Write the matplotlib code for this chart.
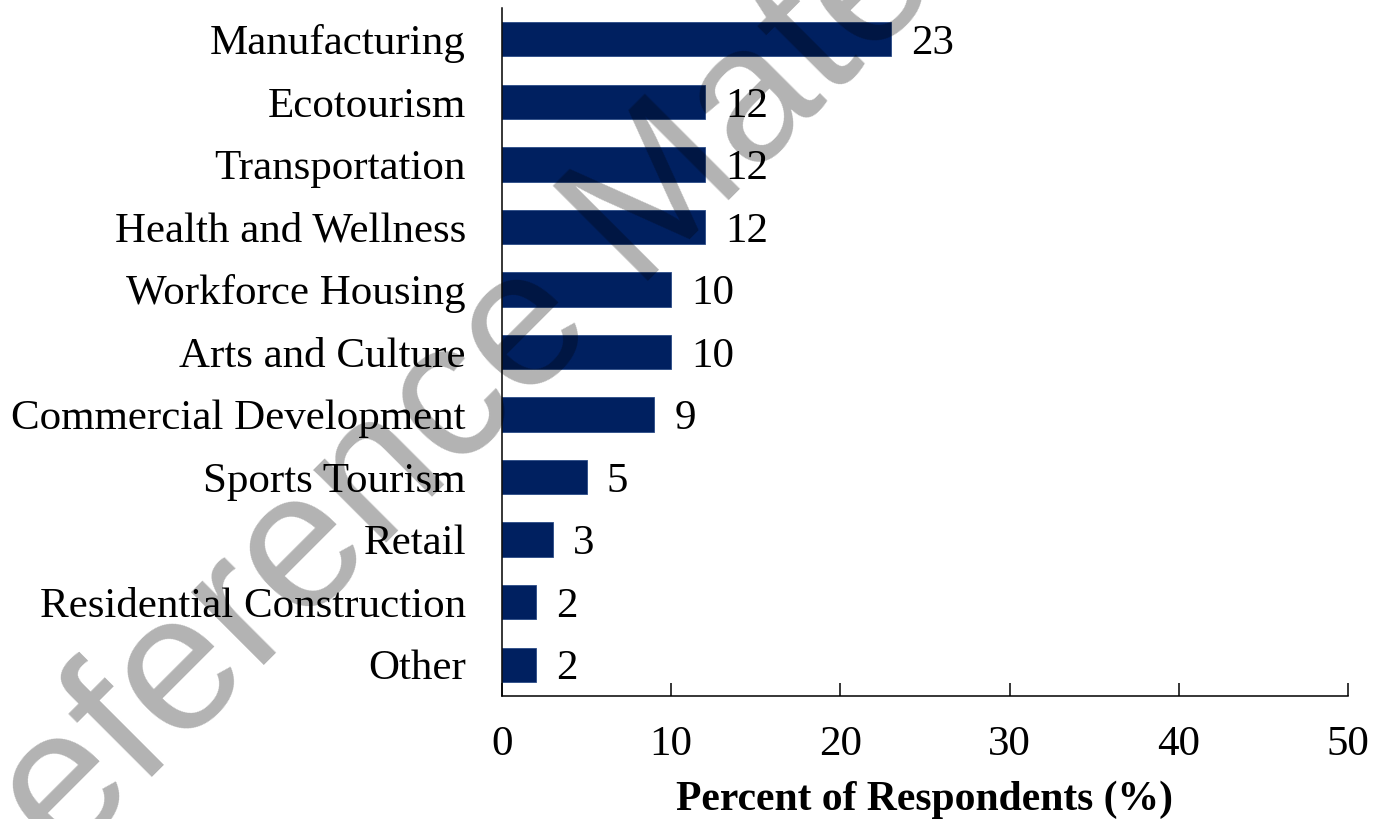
import matplotlib
matplotlib.use("Agg")
import matplotlib.pyplot as plt

categories = ["Manufacturing", "Ecotourism", "Transportation", "Health and Wellness",
              "Workforce Housing", "Arts and Culture", "Commercial Development",
              "Sports Tourism", "Retail", "Residential Construction", "Other"]
values = [23, 12, 12, 12, 10, 10, 9, 5, 3, 2, 2]
xticks = [0, 10, 20, 30, 40, 50]
xlabel = "Percent of Respondents (%)"
watermark = "Reference Material"

plt.rcParams['font.family'] = ['Liberation Serif', 'DejaVu Serif']

W, H = 1377, 819
fig = plt.figure(figsize=(W / 100, H / 100), dpi=100)
ax = fig.add_axes([502 / W, 1 - 696 / H, (1348 - 502) / W, (696 - 8) / H])

pos = list(range(len(categories)))
ax.barh(pos, values, height=0.55, color='#002060', edgecolor='#2a4a86', linewidth=0.6)
for p, v in zip(pos, values):
    ax.annotate(str(v), (v, p), xytext=(14.5, 0), textcoords='offset points',
                va='center_baseline', ha='left', fontsize=31)

ax.set_ylim(len(categories) - 0.5, -0.5)
ax.set_xlim(0, 50)
ax.set_xticks(xticks)
ax.set_yticks(pos)
ax.set_yticklabels(categories, fontsize=31)
ax.tick_params(axis='y', length=0, pad=26)
ax.tick_params(axis='x', direction='in', length=9.5, width=1.1, labelsize=31, pad=21)
for s in ['top', 'right']:
    ax.spines[s].set_visible(False)
for s in ['left', 'bottom']:
    ax.spines[s].set_linewidth(1.1)
ax.set_xlabel(xlabel, fontsize=30, fontweight='bold', labelpad=12)

fig.text(-35 / W, 1 - 965 / H, watermark, family='Liberation Sans', fontsize=140,
         color='black', alpha=0.3, rotation=45, rotation_mode='anchor',
         ha='left', va='baseline', zorder=10)

fig.savefig("out.png", dpi=100)
